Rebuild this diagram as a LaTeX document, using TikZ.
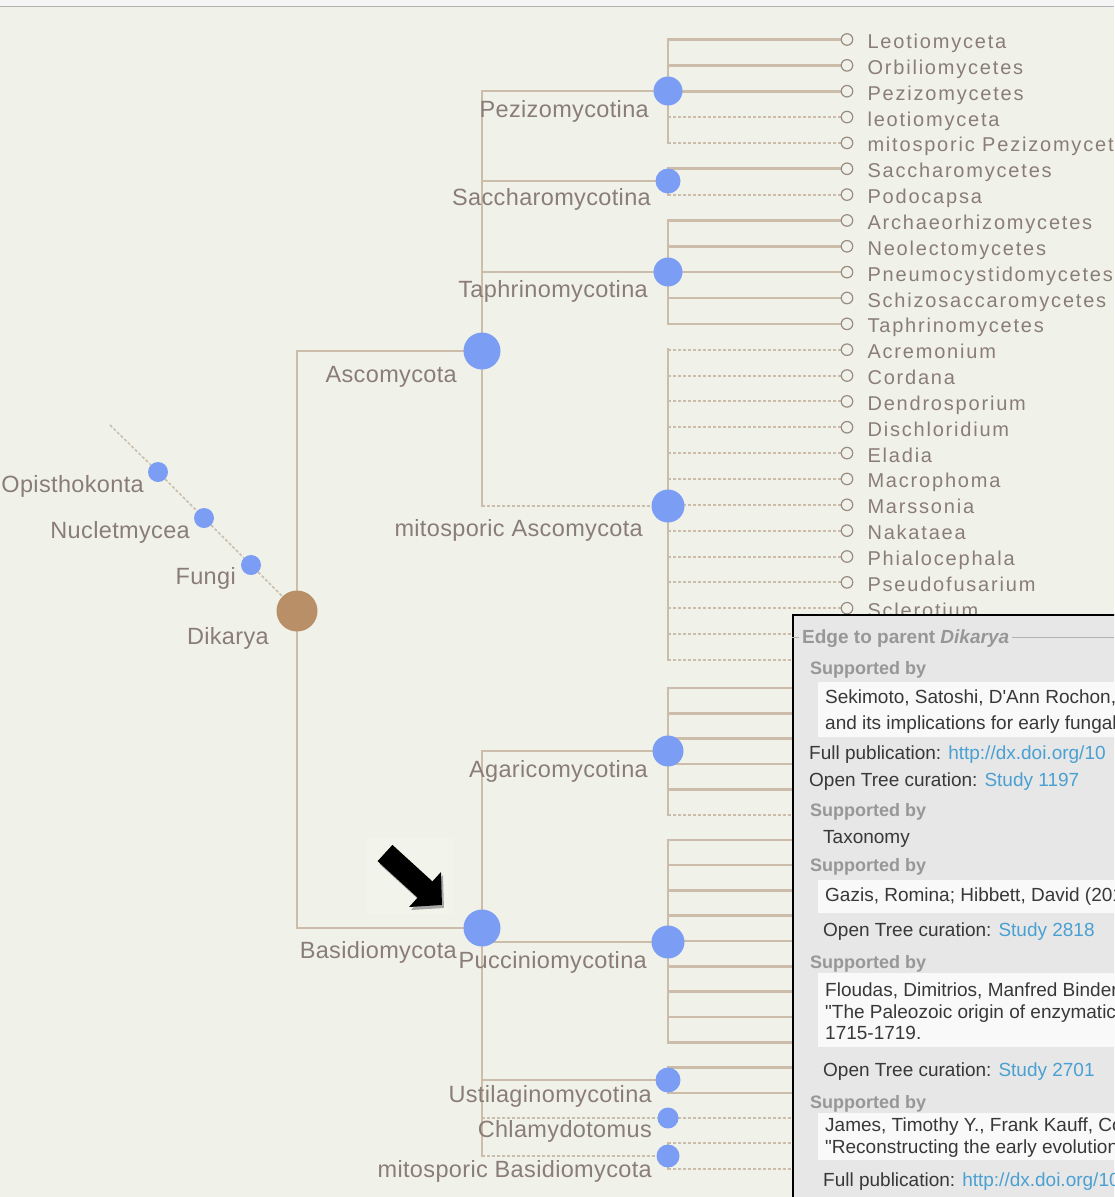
\documentclass[tikz,border=0pt]{standalone}
\usepackage{fontspec}
\usetikzlibrary{positioning,arrows.meta}
\newfontfamily\treefont[LetterSpace=9]{Liberation Sans}
\newfontfamily\cladefont[LetterSpace=1.5]{Liberation Sans}
\newfontfamily\popfont{Liberation Sans}
\definecolor{bgcol}{HTML}{F0F2E9}
\definecolor{edgecol}{HTML}{CBBDAA}
\definecolor{nodeblue}{HTML}{7B9DF4}
\definecolor{nodebrown}{HTML}{B88F66}
\definecolor{labcol}{HTML}{8A7C76}
\definecolor{dotcol}{HTML}{998B80}
\definecolor{popbg}{HTML}{E7E7E7}
\definecolor{popgrey}{HTML}{979797}
\definecolor{poptext}{HTML}{383838}
\definecolor{poplink}{HTML}{4AA0D2}
\pgfdeclarelayer{bg}
\pgfdeclarelayer{edges}
\pgfsetlayers{bg,edges,main}
\tikzset{
  edge/.style={draw=edgecol, line width=2.6pt, line cap=rect},
  dashedge/.style={draw=edgecol, line width=2pt, dash pattern=on 3pt off 2pt},
  clade/.style={circle, fill=nodeblue, inner sep=0pt, minimum size=#1},
  leafdot/.style={circle, draw=dotcol, fill=bgcol, line width=1.2pt, minimum size=11.5pt, inner sep=0pt},
  lab/.style={text=labcol, font=\cladefont\fontsize{23.5}{28}\selectfont, inner sep=0pt, anchor=base east},
  leaflab/.style={lab, font=\treefont\fontsize{20}{24}\selectfont, anchor=base west},
  pop/.style={text=poptext, font=\popfont\fontsize{19}{23}\selectfont, inner sep=0pt, anchor=base west},
  sup/.style={pop, text=popgrey, font=\popfont\bfseries\fontsize{18}{22}\selectfont},
  refbox/.style={fill=white!75!popbg, inner sep=0pt, anchor=north west, minimum width=320pt, minimum height=#1},
  bigarrow/.style={line width=22pt, -{Triangle[length=23pt, width=46pt]}}
}
\begin{document}
\begin{tikzpicture}[x=1pt, y=-1pt]
\useasboundingbox (0,0) rectangle (1114,1197);
\clip (0,0) rectangle (1114,1197);
\begin{pgfonlayer}{bg}
  \fill[bgcol] (0,0) rectangle (1114,1197);
  \fill[white!96!black] (0,0) rectangle (1114,6);
  \draw[black!30, line width=1.5pt] (0,6.5) -- (1114,6.5);
  \fill[white!15!bgcol] (367,838) rectangle (453,914);
\end{pgfonlayer}

\foreach \i in {0,...,24} \coordinate (r\i) at (847,39.5+25.85*\i);
\foreach \i in {25,...,44} \coordinate (r\i) at (847,688+25.3*\i-632.5);
\foreach \t [count=\i from 0] in {Leotiomyceta, Orbiliomycetes, Pezizomycetes, leotiomyceta,
    mitosporic Pezizomycetes, Saccharomycetes, Podocapsa, Archaeorhizomycetes, Neolectomycetes,
    Pneumocystidomycetes, Schizosaccaromycetes, Taphrinomycetes, Acremonium, Cordana,
    Dendrosporium, Dischloridium, Eladia, Macrophoma, Marssonia, Nakataea, Phialocephala,
    Pseudofusarium, Sclerotium} {
  \node[leafdot] (c\i) at (r\i) {};
  \node[leaflab] (t\i) at ([xshift=14pt, yshift=-9pt]c\i.east) {\t};
}
\foreach \i in {23,...,44} \coordinate (c\i) at (r\i);

\node[clade=20pt] (opis) at (158,472) {};
\node[clade=20pt] (nuc) at (204,518) {};
\node[clade=20pt] (fungi) at (251,565) {};
\node[clade=41pt, fill=nodebrown] (dik) at (297,611) {};
\node[clade=37pt] (asc) at (482,351) {};
\node[clade=37pt] (bas) at (482,928) {};
\node[clade=29pt] (pez) at (668,91) {};
\node[clade=25pt] (sac) at (668,181) {};
\node[clade=29pt] (tap) at (668,272) {};
\node[clade=33pt] (mas) at (668,506) {};
\node[clade=31pt] (aga) at (668,751) {};
\node[clade=33pt] (puc) at (668,942) {};
\node[clade=25pt] (ust) at (668,1080) {};
\node[clade=21pt] (chl) at (668,1118) {};
\node[clade=23pt] (mba) at (668,1156) {};

\node[lab] (lopis) at ([xshift=-14pt, yshift=-20pt]opis) {Opisthokonta};
\node[lab] (lnuc) at ([xshift=-14pt, yshift=-20pt]nuc) {Nucletmycea};
\node[lab] (lfungi) at ([xshift=-15pt, yshift=-19pt]fungi) {Fungi};
\node[lab] (ldik) at ([xshift=-28pt, yshift=-33pt]dik) {Dikarya};
\node[lab] (lasc) at ([xshift=-25pt, yshift=-31pt]asc) {Ascomycota};
\node[lab] (lbas) at ([xshift=-25pt, yshift=-30pt]bas) {Basidiomycota};
\node[lab] (lpez) at ([xshift=-19pt, yshift=-26pt]pez) {Pezizomycotina};
\node[lab] (lsac) at ([xshift=-17pt, yshift=-24pt]sac) {Saccharomycotina};
\node[lab] (ltap) at ([xshift=-20pt, yshift=-25pt]tap) {Taphrinomycotina};
\node[lab] (lmas) at ([xshift=-25pt, yshift=-30pt]mas) {mitosporic Ascomycota};
\node[lab] (laga) at ([xshift=-20pt, yshift=-26pt]aga) {Agaricomycotina};
\node[lab] (lpuc) at ([xshift=-21pt, yshift=-26pt]puc) {Pucciniomycotina};
\node[lab] (lust) at ([xshift=-16pt, yshift=-22pt]ust) {Ustilaginomycotina};
\node[lab] (lchl) at ([xshift=-16pt, yshift=-19pt]chl) {Chlamydotomus};
\node[lab] (lmba) at ([xshift=-16pt, yshift=-21pt]mba) {mitosporic Basidiomycota};

\begin{pgfonlayer}{edges}
  \coordinate (root) at (110,425);
  \draw[dashedge, line width=1.5pt] (root) -- (opis) -- (nuc) -- (fungi) -- (dik);
  \draw[edge] (dik |- asc) -- (dik |- bas);
  \draw[edge] (dik |- asc) -- (asc);
  \draw[edge] (dik |- bas) -- (bas);
  \draw[edge] (asc |- pez) -- (asc |- mas);
  \foreach \k in {pez,sac,tap} \draw[edge] (asc |- \k) -- (\k);
  \draw[dashedge] (asc |- mas) -- (mas);
  \draw[edge] (bas |- aga) -- (bas |- mba);
  \foreach \k in {aga,puc,ust} \draw[edge] (bas |- \k) -- (\k);
  \foreach \k in {chl,mba} \draw[dashedge] (bas |- \k) -- (\k);
  \draw[edge] (pez |- c0) -- (pez |- c4);
  \draw[edge] (sac |- c5) -- (sac |- c6);
  \draw[edge] (tap |- c7) -- (tap |- c11);
  \draw[edge] (mas |- c12) -- (mas |- c24);
  \draw[edge] (aga |- c25) -- (aga |- c30);
  \draw[edge] (puc |- c31) -- (puc |- c39);
  \draw[edge] (ust |- c40) -- (ust |- c41);
  \draw[edge] (mba |- c43) -- (mba |- c44);
  \foreach \i in {0,1,2} \draw[edge] (pez |- c\i) -- (c\i);
  \foreach \i in {3,4} \draw[dashedge] (pez |- c\i) -- (c\i);
  \draw[edge] (sac |- c5) -- (c5);
  \draw[dashedge] (sac |- c6) -- (c6);
  \foreach \i in {7,...,11} \draw[edge] (tap |- c\i) -- (c\i);
  \foreach \i in {12,...,24} \draw[dashedge] (mas |- c\i) -- (c\i);
  \foreach \i in {25,...,29} \draw[edge] (aga |- c\i) -- (c\i);
  \draw[dashedge] (aga |- c30) -- (c30);
  \foreach \i in {31,...,39} \draw[edge] (puc |- c\i) -- (c\i);
  \foreach \i in {40,41} \draw[edge] (ust |- c\i) -- (c\i);
  \draw[dashedge] (chl |- c42) -- (c42);
  \foreach \i in {43,44} \draw[dashedge] (mba |- c\i) -- (c\i);
\end{pgfonlayer}

\coordinate (arrowtail) at (385,853);
\coordinate (arrowtip) at (442,905);
\draw[bigarrow, black!35] ([shift={(2pt,-3pt)}]arrowtail) -- ([shift={(2pt,-3pt)}]arrowtip);
\draw[bigarrow, black] (arrowtail) -- (arrowtip);

\node[draw=black, line width=2pt, fill=popbg, anchor=north west, inner sep=0pt,
  minimum width=360pt, minimum height=620pt] (popup) at (792,614) {};
\draw[black!30, line width=1pt] (popup.west |- 0,637) -- (1114,637);
\node[sup, fill=popbg, inner xsep=3pt, font=\popfont\bfseries\fontsize{19}{23}\selectfont]
  (legend) at (799,643) {Edge to parent \textit{Dikarya}\hspace{3pt}};
\node[sup] (sup1) at (810,674) {Supported by};
\node[refbox=55pt] (box1) at (818,682) {};
\node[pop] (ref1a) at (825,703) {Sekimoto, Satoshi, D'Ann Rochon,};
\node[pop] (ref1b) at (825,729) {and its implications for early fungal};
\node[pop] (pub1) at (809,759) {Full publication: \textcolor{poplink}{http://dx.doi.org/10}};
\node[pop] (cur1) at (809,786) {Open Tree curation: \textcolor{poplink}{Study 1197}};
\node[sup] (sup2) at (810,816) {Supported by};
\node[pop] (tax) at (823,843) {Taxonomy};
\node[sup] (sup3) at (810,871) {Supported by};
\node[refbox=33pt] (box2) at (818,880) {};
\node[pop] (ref2a) at (825,901) {Gazis, Romina; Hibbett, David (201};
\node[pop] (cur2) at (823,936) {Open Tree curation: \textcolor{poplink}{Study 2818}};
\node[sup] (sup4) at (810,968) {Supported by};
\node[refbox=74pt] (box3) at (818,973) {};
\node[pop] (ref3a) at (825,996) {Floudas, Dimitrios, Manfred Binder};
\node[pop] (ref3b) at (825,1018) {"The Paleozoic origin of enzymatic};
\node[pop] (ref3c) at (825,1039) {1715-1719.};
\node[pop] (cur3) at (823,1076) {Open Tree curation: \textcolor{poplink}{Study 2701}};
\node[sup] (sup5) at (810,1108) {Supported by};
\node[refbox=47pt] (box4) at (818,1113) {};
\node[pop] (ref4a) at (825,1131) {James, Timothy Y., Frank Kauff, Co};
\node[pop] (ref4b) at (825,1153) {"Reconstructing the early evolution};
\node[pop] (pub4) at (823,1186) {Full publication: \textcolor{poplink}{http://dx.doi.org/10}};
\end{tikzpicture}
\end{document}
